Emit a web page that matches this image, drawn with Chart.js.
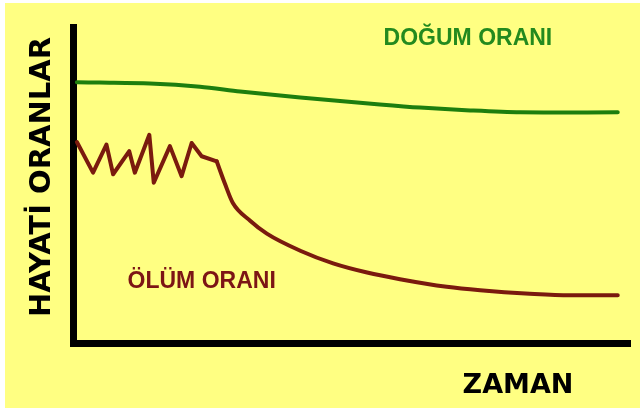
<!DOCTYPE html>
<html>
<head>
<meta charset="utf-8">
<script src="https://cdn.jsdelivr.net/npm/chart.js@4"></script>
<style>
  html, body { margin: 0; padding: 0; background: #fff; }
  #wrap {
    position: absolute; left: 5px; top: 3px;
    width: 635px; height: 405px;
    background: #ffff82;
  }
</style>
</head>
<body>
<div id="wrap"><canvas id="chart1"></canvas></div>
<script>
// birth rate (green) - time / rate pairs
var birthTime = [0.7, 4.8, 13.8, 22.8, 30.0, 40.8, 55.1, 62.3, 71.3, 80.3, 97.8];
var birthRate = [82.5, 82.4, 82.1, 81.1, 79.6, 77.7, 75.5, 74.5, 73.6, 73.0, 73.0];

// death rate (dark red): jagged start, then a smooth fall
var deathTime = [0.7, 3.6, 6.0, 7.2, 10.1, 11.1, 13.7, 14.5, 17.4, 19.5, 21.3, 23.1, 25.8,
  27.3, 28.7, 31.8, 34.8, 40.8, 46.7, 52.8, 58.7, 67.1, 73.1, 82.0, 89.2, 97.8];
var deathRate = [63.6, 53.9, 62.8, 53.4, 60.7, 53.9, 65.9, 50.7, 62.3, 52.8, 63.3, 59.1, 57.5,
  50.3, 44.3, 38.7, 34.6, 29.2, 25.2, 22.3, 20.2, 17.8, 16.7, 15.6, 15.1, 15.1];
var jaggedEnd = 12; // last point of the jagged part

var seriesLabels = ['DOĞUM ORANI', 'ÖLÜM ORANI'];
var xTitle = 'ZAMAN';
var yTitle = 'HAYATİ ORANLAR';

function pairs(xs, ys) {
  return xs.map(function (x, i) { return { x: x, y: ys[i] }; });
}

var GREEN_TEXT = '#238a1e';
var RED_TEXT = '#7c1515';
var RED_LINE = '#7a1a0e';

// text labels drawn on top of the plot
var textPlugin = {
  id: 'textLabels',
  afterDraw: function (chart) {
    var c = chart.ctx, a = chart.chartArea;
    var sx = chart.scales.x, sy = chart.scales.y;
    c.save();
    c.textAlign = 'center';
    c.textBaseline = 'alphabetic';

    c.font = 'bold 23px "Liberation Sans", Arial, sans-serif';
    c.fillStyle = GREEN_TEXT;
    c.fillText(seriesLabels[0], sx.getPixelForValue(70.9), sy.getPixelForValue(94.3));
    c.fillStyle = RED_TEXT;
    c.fillText(seriesLabels[1], sx.getPixelForValue(23.1), sy.getPixelForValue(17.3));

    c.fillStyle = '#000';
    c.font = 'bold 27px "DejaVu Sans", sans-serif';
    c.fillText(xTitle, a.right - 112, a.bottom + 50);

    c.font = 'bold 29px "DejaVu Sans", sans-serif';
    c.translate(a.left - 23, (a.top + a.bottom) / 2 - 8);
    c.rotate(-Math.PI / 2);
    c.fillText(yTitle, 0, 0);
    c.restore();
  }
};

var ctx = document.getElementById('chart1').getContext('2d');

var myChart = new Chart(ctx, {
  type: 'line',
  data: {
    datasets: [{
      label: seriesLabels[0],
      data: pairs(birthTime, birthRate),
      borderColor: '#1d7e0e',
      borderWidth: 4,
      pointRadius: 0,
      tension: 0.3
    },
    {
      label: seriesLabels[1],
      data: pairs(deathTime.slice(0, jaggedEnd + 1), deathRate.slice(0, jaggedEnd + 1)),
      borderColor: RED_LINE,
      borderWidth: 4,
      pointRadius: 0,
      tension: 0
    },
    {
      label: seriesLabels[1],
      data: pairs(deathTime.slice(jaggedEnd), deathRate.slice(jaggedEnd)),
      borderColor: RED_LINE,
      borderWidth: 4,
      pointRadius: 0,
      cubicInterpolationMode: 'monotone'
    }]
  },
  options: {
    responsive: true,
    maintainAspectRatio: false,
    animation: false,
    elements: {
      line: { borderJoinStyle: 'round', borderCapStyle: 'round' }
    },
    layout: {
      padding: { left: 68, top: 24, right: 10, bottom: 65 }
    },
    plugins: {
      legend: { display: false },
      tooltip: { enabled: false }
    },
    scales: {
      x: {
        type: 'linear',
        min: 0,
        max: 100,
        ticks: { display: false },
        grid: { display: false, drawTicks: false },
        border: { display: true, color: '#000', width: 7 }
      },
      y: {
        min: 0,
        max: 100,
        ticks: { display: false },
        grid: { display: false, drawTicks: false },
        border: { display: true, color: '#000', width: 7 }
      }
    }
  },
  plugins: [textPlugin]
});
</script>
</body>
</html>
